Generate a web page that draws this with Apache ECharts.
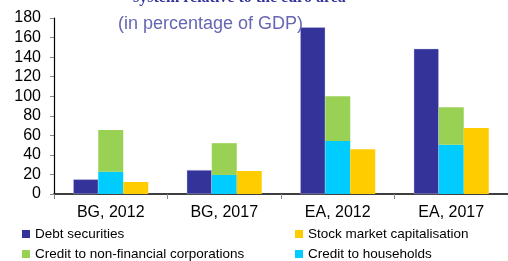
<!DOCTYPE html>
<html><head><meta charset="utf-8">
<script src="https://cdn.jsdelivr.net/npm/echarts@6/dist/echarts.min.js"></script>
<style>html,body{margin:0;padding:0;background:#fff}#c{width:508px;height:261px}</style>
</head><body><div id="c"></div>
<script>
const categories = ['BG, 2012', 'BG, 2017', 'EA, 2012', 'EA, 2017'];
const debtSecurities = [15, 24.5, 170.5, 148.6];
const creditHouseholds = [22.8, 19.5, 54.2, 50.4];
const creditNFC = [42.6, 32.5, 45.7, 38.2];
const stockMarket = [12.3, 23.5, 45.7, 67.5];
const yTicks = [0, 20, 40, 60, 80, 100, 120, 140, 160, 180];

const chart = echarts.init(document.getElementById('c'), null, {renderer: 'canvas'});
const edge = {borderColor: 'rgba(200,200,235,0.8)', borderWidth: 0.5};
const legTxt = {fontFamily: 'Liberation Sans', fontSize: 13.5, color: '#000'};
function leg(name, left, top) {
  return {data: [name], left: left, top: top, padding: 0, itemWidth: 8, itemHeight: 8,
    icon: 'rect', itemStyle: {borderWidth: 0}, textStyle: legTxt};
}
const barCommon = {type: 'bar', barWidth: 25, barGap: '0%'};
chart.setOption({
  animation: false,
  title: [
    {text: 'system relative to the euro area', left: 128, top: -15.5,
     textStyle: {fontFamily: 'Liberation Serif', fontWeight: 'bold', fontSize: 16, color: '#333399'}},
    {text: '(in percentage of GDP)', left: 113, top: 10,
     textStyle: {fontFamily: 'Liberation Sans', fontWeight: 'normal', fontSize: 18, color: '#6666b3'}}
  ],
  legend: [
    leg('Debt securities', 22, 227),
    leg('Credit to non-financial corporations', 22, 247),
    leg('Stock market capitalisation', 295, 227),
    leg('Credit to households', 295, 247)
  ],
  grid: {left: 54, top: 18, width: 464, height: 176, containLabel: false},
  xAxis: {
    type: 'category', data: categories,
    axisLine: {lineStyle: {color: '#000', width: 1.5}},
    axisTick: {show: true, length: 5, lineStyle: {color: '#888'}},
    axisLabel: {fontFamily: 'Liberation Sans', fontSize: 16, color: '#000', margin: 11}
  },
  yAxis: {
    type: 'value', min: 0, max: 180, interval: 20,
    axisLine: {show: true, lineStyle: {color: '#000', width: 1.2}},
    axisTick: {show: true, length: 4, lineStyle: {color: '#888'}},
    splitLine: {show: false},
    axisLabel: {fontFamily: 'Liberation Sans', fontSize: 16, color: '#000', margin: 13,
      formatter: v => yTicks.includes(v) ? String(v) : ''}
  },
  series: [
    Object.assign({name: 'Debt securities', data: debtSecurities,
     itemStyle: Object.assign({color: '#333399'}, edge)}, barCommon),
    Object.assign({name: 'Credit to households', stack: 'credit', data: creditHouseholds,
     itemStyle: {color: '#00ccff'}}, barCommon),
    Object.assign({name: 'Credit to non-financial corporations', stack: 'credit', data: creditNFC,
     itemStyle: {color: '#99d155'}}, barCommon),
    Object.assign({name: 'Stock market capitalisation', data: stockMarket,
     itemStyle: {color: '#ffcc00'}}, barCommon)
  ]
});
</script></body></html>
